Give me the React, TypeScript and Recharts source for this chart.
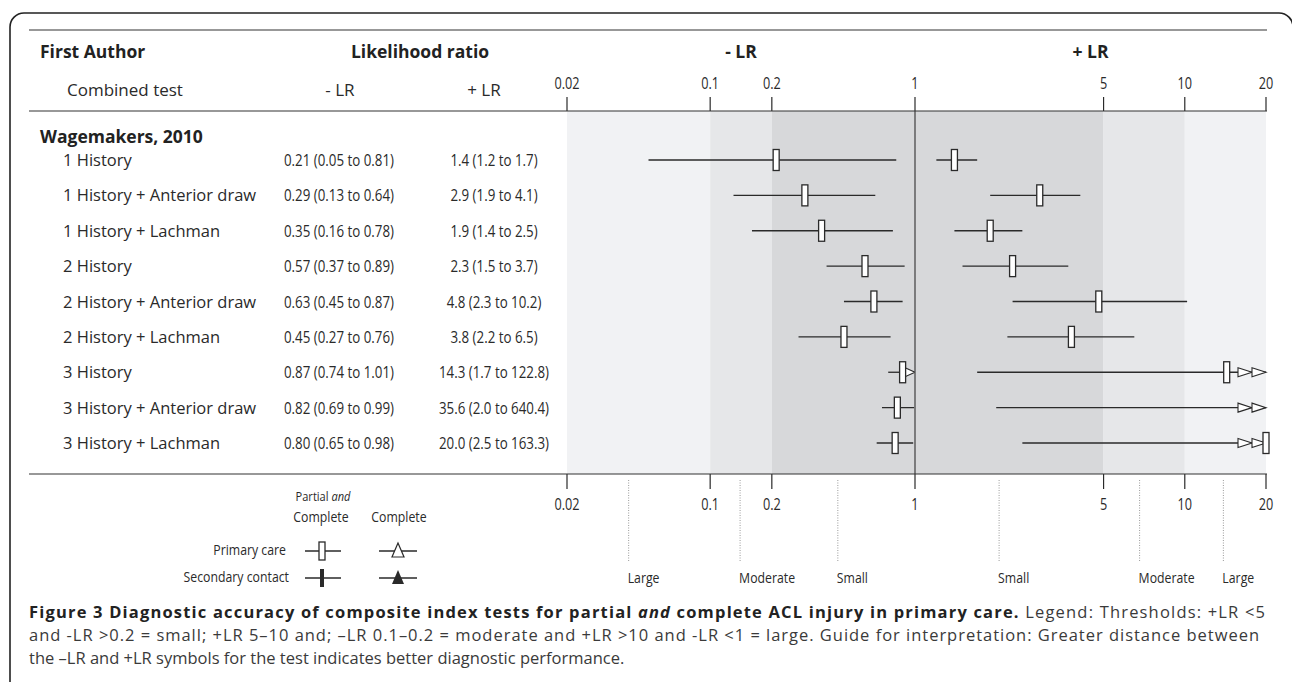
import React from 'react';
import { ComposedChart, Scatter, XAxis, YAxis, ReferenceArea, ReferenceLine } from 'recharts';

// ---------------- data ----------------
const TESTS = [
  '1 History',
  '1 History + Anterior draw',
  '1 History + Lachman',
  '2 History',
  '2 History + Anterior draw',
  '2 History + Lachman',
  '3 History',
  '3 History + Anterior draw',
  '3 History + Lachman',
];
const ROW = [1, 2, 3, 4, 5, 6, 7, 8, 9];

const NEG_LR = [0.21, 0.29, 0.35, 0.57, 0.63, 0.45, 0.87, 0.82, 0.8];
const NEG_LO = [0.05, 0.13, 0.16, 0.37, 0.45, 0.27, 0.74, 0.69, 0.65];
const NEG_HI = [0.81, 0.64, 0.78, 0.89, 0.87, 0.76, 1.01, 0.99, 0.98];

const POS_LR = [1.4, 2.9, 1.9, 2.3, 4.8, 3.8, 14.3, 35.6, 20.0];
const POS_LO = [1.2, 1.9, 1.4, 1.5, 2.3, 2.2, 1.7, 2.0, 2.5];
const POS_HI = [1.7, 4.1, 2.5, 3.7, 10.2, 6.5, 122.8, 640.4, 163.3];

const NEG_TEXT = [
  '0.21 (0.05 to 0.81)',
  '0.29 (0.13 to 0.64)',
  '0.35 (0.16 to 0.78)',
  '0.57 (0.37 to 0.89)',
  '0.63 (0.45 to 0.87)',
  '0.45 (0.27 to 0.76)',
  '0.87 (0.74 to 1.01)',
  '0.82 (0.69 to 0.99)',
  '0.80 (0.65 to 0.98)',
];
const POS_TEXT = [
  '1.4 (1.2 to 1.7)',
  '2.9 (1.9 to 4.1)',
  '1.9 (1.4 to 2.5)',
  '2.3 (1.5 to 3.7)',
  '4.8 (2.3 to 10.2)',
  '3.8 (2.2 to 6.5)',
  '14.3 (1.7 to 122.8)',
  '35.6 (2.0 to 640.4)',
  '20.0 (2.5 to 163.3)',
];

const NEG_DOMAIN = [0.02, 1];
const POS_DOMAIN = [1, 20];
const NEG_TICKS = [0.02, 0.1, 0.2];
const POS_TICKS = [1, 5, 10, 20];

const NEG_BANDS = [[0.02, 0.1], [0.1, 0.2], [0.2, 1]];
const POS_BANDS = [[1, 5], [5, 10], [10, 20]];
const NEG_BAND_FILLS = ['#f1f2f4', '#e6e7e9', '#d7d8da'];
const POS_BAND_FILLS = ['#d7d8da', '#e6e7e9', '#f1f2f4'];

const NEG_GUIDES = [0.04, 0.14, 0.42];
const NEG_GUIDE_LABELS = ['Large', 'Moderate', 'Small'];
const POS_GUIDES = [2.05, 6.8, 13.9];
const POS_GUIDE_LABELS = ['Small', 'Moderate', 'Large'];

// ---------------- layout ----------------
const W = 1292;
const H = 682;
const FONT = "'Open Sans', 'Noto Sans', 'DejaVu Sans', sans-serif";
const INK = '#2a2a2a';
const PLOT_TOP = 111;
const PLOT_BOTTOM = 474;
const NEG_LEFT = 567;
const SPLIT = 915;
const POS_RIGHT = 1266;
const TOP_AXIS_H = 30;
const BOT_AXIS_H = 30;
const GUIDE_AXIS_H = 30;
const TABLE_W = 560;
const Y_PAD = { top: 49, bottom: 31 };

const Cond = ({ x, y, anchor = 'middle', size = 15, sx = 0.82, weight = 400, fill = INK, children }: any) => (
  <text
    transform={`translate(${x},${y}) scale(${sx},1)`}
    textAnchor={anchor}
    fontFamily={FONT}
    fontSize={size}
    fontWeight={weight}
    fill={fill}
  >
    {children}
  </text>
);

const TopTick = (p: any) => (
  <Cond x={p.x} y={p.y} size={15.5}>{String(p.payload.value)}</Cond>
);
const BottomTick = (p: any) => (
  <Cond x={p.x} y={p.y + 11} size={15.5}>{String(p.payload.value)}</Cond>
);

const makeGuideTick = (labels: string[]) => (p: any) => (
  <g>
    <line x1={p.x} x2={p.x} y1={480} y2={561} stroke="#9a9a9a" strokeWidth={1} strokeDasharray="1 1.5" />
    <Cond x={p.x - 1} y={583} anchor="start" size={15}>{labels[p.index]}</Cond>
  </g>
);

const RowTick = (p: any) => {
  const i = ROW.indexOf(p.payload.value);
  if (i < 0) return <g />;
  const y = p.y + 6;
  return (
    <g>
      <text x={63} y={y} fontFamily={FONT} fontSize={16.5} fill={INK}>{TESTS[i]}</text>
      <Cond x={339} y={y} size={15.5} sx={0.86}>{NEG_TEXT[i]}</Cond>
      <Cond x={494} y={y} size={15.5} sx={0.86}>{POS_TEXT[i]}</Cond>
    </g>
  );
};

const Box = (p: any) => (
  <rect x={p.cx - 3} y={p.cy - 10.5} width={6} height={21} fill="#ffffff" stroke={INK} strokeWidth={1.3} />
);
const NoShape = () => <g />;
const SingleArrow = (p: any) => (
  <polygon
    points={`${p.cx - 11},${p.cy - 5} ${p.cx},${p.cy} ${p.cx - 11},${p.cy + 5}`}
    fill="#ffffff"
    stroke={INK}
    strokeWidth={1.1}
  />
);
const DoubleArrow = (p: any) => (
  <g>
    <polygon
      points={`${p.cx - 28},${p.cy - 4.5} ${p.cx - 14},${p.cy} ${p.cx - 28},${p.cy + 4.5}`}
      fill="#ffffff"
      stroke={INK}
      strokeWidth={1.1}
    />
    <polygon
      points={`${p.cx - 14},${p.cy - 4.5} ${p.cx},${p.cy} ${p.cx - 14},${p.cy + 4.5}`}
      fill="#ffffff"
      stroke={INK}
      strokeWidth={1.1}
    />
  </g>
);

function Panel({ domain, ticks, bands, fills, est, lo, hi, guides, guideLabels, plotLeft, plotRight, table, arrow, showOne }: any) {
  const max = domain[1];
  const boxData = ROW.map((r, i) => ({ x: est[i], y: r })).filter((d) => d.x <= max);
  const arrowData = ROW.map((r, i) => ({ x: max, y: r, over: hi[i] > max })).filter((d) => d.over);
  const segments = ROW.map((r, i) => [
    { x: lo[i], y: r },
    { x: hi[i], y: r },
  ]);
  const margin = {
    top: PLOT_TOP - TOP_AXIS_H,
    bottom: H - PLOT_BOTTOM - BOT_AXIS_H - GUIDE_AXIS_H,
    left: table ? plotLeft - TABLE_W : plotLeft,
    right: W - plotRight,
  };
  return (
    <div style={{ position: 'absolute', left: 0, top: 0, width: W, height: H }}>
      <ComposedChart width={W} height={H} margin={margin}>
        <XAxis
          xAxisId="top"
          orientation="top"
          type="number"
          dataKey="x"
          scale="log"
          domain={domain}
          allowDataOverflow
          ticks={ticks}
          interval={0}
          height={TOP_AXIS_H}
          tickSize={14}
          tickMargin={8}
          axisLine={false}
          tickLine={{ stroke: INK, strokeWidth: 1.2 }}
          tick={TopTick}
        />
        <XAxis
          xAxisId="bot"
          orientation="bottom"
          type="number"
          dataKey="x"
          scale="log"
          domain={domain}
          ticks={ticks}
          interval={0}
          height={BOT_AXIS_H}
          tickSize={15}
          tickMargin={10}
          axisLine={false}
          tickLine={{ stroke: INK, strokeWidth: 1.2 }}
          tick={BottomTick}
        />
        <XAxis
          xAxisId="guide"
          orientation="bottom"
          type="number"
          dataKey="x"
          scale="log"
          domain={domain}
          allowDataOverflow
          ticks={guides}
          interval={0}
          height={GUIDE_AXIS_H}
          axisLine={false}
          tickLine={false}
          tick={makeGuideTick(guideLabels)}
        />
        <XAxis xAxisId="ci" type="number" dataKey="x" scale="log" domain={domain} allowDataOverflow hide />
        <YAxis
          type="number"
          dataKey="y"
          domain={[1, 9]}
          reversed
          padding={Y_PAD}
          ticks={ROW}
          interval={0}
          width={table ? TABLE_W : 0}
          hide={!table}
          axisLine={false}
          tickLine={false}
          tick={RowTick}
        />
        <YAxis yAxisId="full" type="number" domain={[0, 1]} allowDataOverflow hide />
        {bands.map((b: number[], i: number) => (
          <ReferenceArea
            key={`band${i}`}
            xAxisId="top"
            yAxisId="full"
            x1={b[0]}
            x2={b[1]}
            y1={0}
            y2={1}
            fill={fills[i]}
            fillOpacity={1}
            stroke="none"
          />
        ))}
        {showOne && <ReferenceLine xAxisId="top" yAxisId="full" x={1} stroke="#555" strokeWidth={1.4} />}
        {segments.map((seg: any, i: number) => (
          <Scatter
            key={`ci${i}`}
            xAxisId="ci"
            data={seg}
            line={{ stroke: INK, strokeWidth: 1.3 }}
            shape={NoShape}
            isAnimationActive={false}
          />
        ))}
        <Scatter xAxisId="bot" data={arrowData} shape={arrow === 2 ? DoubleArrow : SingleArrow} isAnimationActive={false} />
        <Scatter xAxisId="bot" data={boxData} shape={Box} isAnimationActive={false} />
      </ComposedChart>
    </div>
  );
}

const Legend = () => (
  <g>
    <Cond x={323} y={501} size={13.5} sx={0.82}>
      Partial <tspan fontStyle="italic">and</tspan>
    </Cond>
    <Cond x={321} y={522} size={15} sx={0.82}>Complete</Cond>
    <Cond x={399} y={522} size={15} sx={0.82}>Complete</Cond>

    <Cond x={286} y={555} anchor="end" size={15} sx={0.82}>Primary care</Cond>
    <line x1={305} x2={341} y1={551} y2={551} stroke={INK} strokeWidth={1.3} />
    <rect x={319} y={542} width={6} height={18} fill="#fff" stroke={INK} strokeWidth={1.3} />
    <line x1={379} x2={417} y1={551} y2={551} stroke={INK} strokeWidth={1.3} />
    <polygon points="398,543 392,557 404,557" fill="#fff" stroke={INK} strokeWidth={1.2} />

    <Cond x={289} y={582} anchor="end" size={15} sx={0.82}>Secondary contact</Cond>
    <line x1={305} x2={341} y1={578} y2={578} stroke={INK} strokeWidth={1.3} />
    <rect x={320} y={569} width={4} height={18} fill={INK} />
    <line x1={379} x2={417} y1={578} y2={578} stroke={INK} strokeWidth={1.3} />
    <polygon points="398,570 392,584 404,584" fill={INK} />
  </g>
);

const Overlay = () => (
  <svg width={W} height={H} style={{ position: 'absolute', left: 0, top: 0, pointerEvents: 'none' }}>
    <path
      d="M10 700 V27 A14 14 0 0 1 24 13 H1279 A14 14 0 0 1 1293 27 V700"
      fill="none"
      stroke="#222"
      strokeWidth={1.6}
    />
    <line x1={29} x2={1267} y1={30} y2={30} stroke="#333" strokeWidth={1.2} />
    <line x1={29} x2={1267} y1={PLOT_TOP} y2={PLOT_TOP} stroke="#333" strokeWidth={1.2} />
    <line x1={29} x2={1267} y1={PLOT_BOTTOM} y2={PLOT_BOTTOM} stroke="#333" strokeWidth={1.2} />

    <text x={40} y={58} fontFamily={FONT} fontSize={17.5} fontWeight={700} fill="#222">First Author</text>
    <text x={420} y={58} textAnchor="middle" fontFamily={FONT} fontSize={17.5} fontWeight={700} fill="#222">Likelihood ratio</text>
    <text x={(NEG_LEFT + SPLIT) / 2} y={58} textAnchor="middle" fontFamily={FONT} fontSize={17.5} fontWeight={700} fill="#222">- LR</text>
    <text x={(SPLIT + POS_RIGHT) / 2} y={58} textAnchor="middle" fontFamily={FONT} fontSize={17.5} fontWeight={700} fill="#222">+ LR</text>

    <text x={67} y={96} fontFamily={FONT} fontSize={17} fill={INK}>Combined test</text>
    <text x={340} y={96} textAnchor="middle" fontFamily={FONT} fontSize={17} fill={INK}>- LR</text>
    <text x={484} y={96} textAnchor="middle" fontFamily={FONT} fontSize={17} fill={INK}>+ LR</text>

    <text x={40} y={143} fontFamily={FONT} fontSize={17.5} fontWeight={700} fill="#222">Wagemakers, 2010</text>

    <Legend />

    <text x={29} y={618} fontFamily={FONT} fontSize={16.5} fill="#3a3a3a" textLength={1236} lengthAdjust="spacing">
      <tspan fontWeight={700} fill="#222">Figure 3 Diagnostic accuracy of composite index tests for partial </tspan>
      <tspan fontWeight={700} fontStyle="italic" fill="#222">and</tspan>
      <tspan fontWeight={700} fill="#222"> complete ACL injury in primary care.</tspan>
      <tspan> Legend: Thresholds: +LR &lt;5</tspan>
    </text>
    <text x={29} y={641} fontFamily={FONT} fontSize={16.5} fill="#3a3a3a" textLength={1230} lengthAdjust="spacing">
      and -LR &gt;0.2 = small; +LR 5–10 and; –LR 0.1–0.2 = moderate and +LR &gt;10 and -LR &lt;1 = large. Guide for interpretation: Greater distance between
    </text>
    <text x={29} y={664} fontFamily={FONT} fontSize={16.5} fill="#3a3a3a">
      the –LR and +LR symbols for the test indicates better diagnostic performance.
    </text>
  </svg>
);

export default function App() {
  return (
    <div style={{ position: 'absolute', left: 0, top: 0, width: W, height: H, background: '#fff', overflow: 'hidden' }}>
      <Panel
        domain={NEG_DOMAIN}
        ticks={NEG_TICKS}
        bands={NEG_BANDS}
        fills={NEG_BAND_FILLS}
        est={NEG_LR}
        lo={NEG_LO}
        hi={NEG_HI}
        guides={NEG_GUIDES}
        guideLabels={NEG_GUIDE_LABELS}
        plotLeft={NEG_LEFT}
        plotRight={SPLIT}
        table
        arrow={1}
        showOne={false}
      />
      <Panel
        domain={POS_DOMAIN}
        ticks={POS_TICKS}
        bands={POS_BANDS}
        fills={POS_BAND_FILLS}
        est={POS_LR}
        lo={POS_LO}
        hi={POS_HI}
        guides={POS_GUIDES}
        guideLabels={POS_GUIDE_LABELS}
        plotLeft={SPLIT}
        plotRight={POS_RIGHT}
        table={false}
        arrow={2}
        showOne
      />
      <Overlay />
    </div>
  );
}
